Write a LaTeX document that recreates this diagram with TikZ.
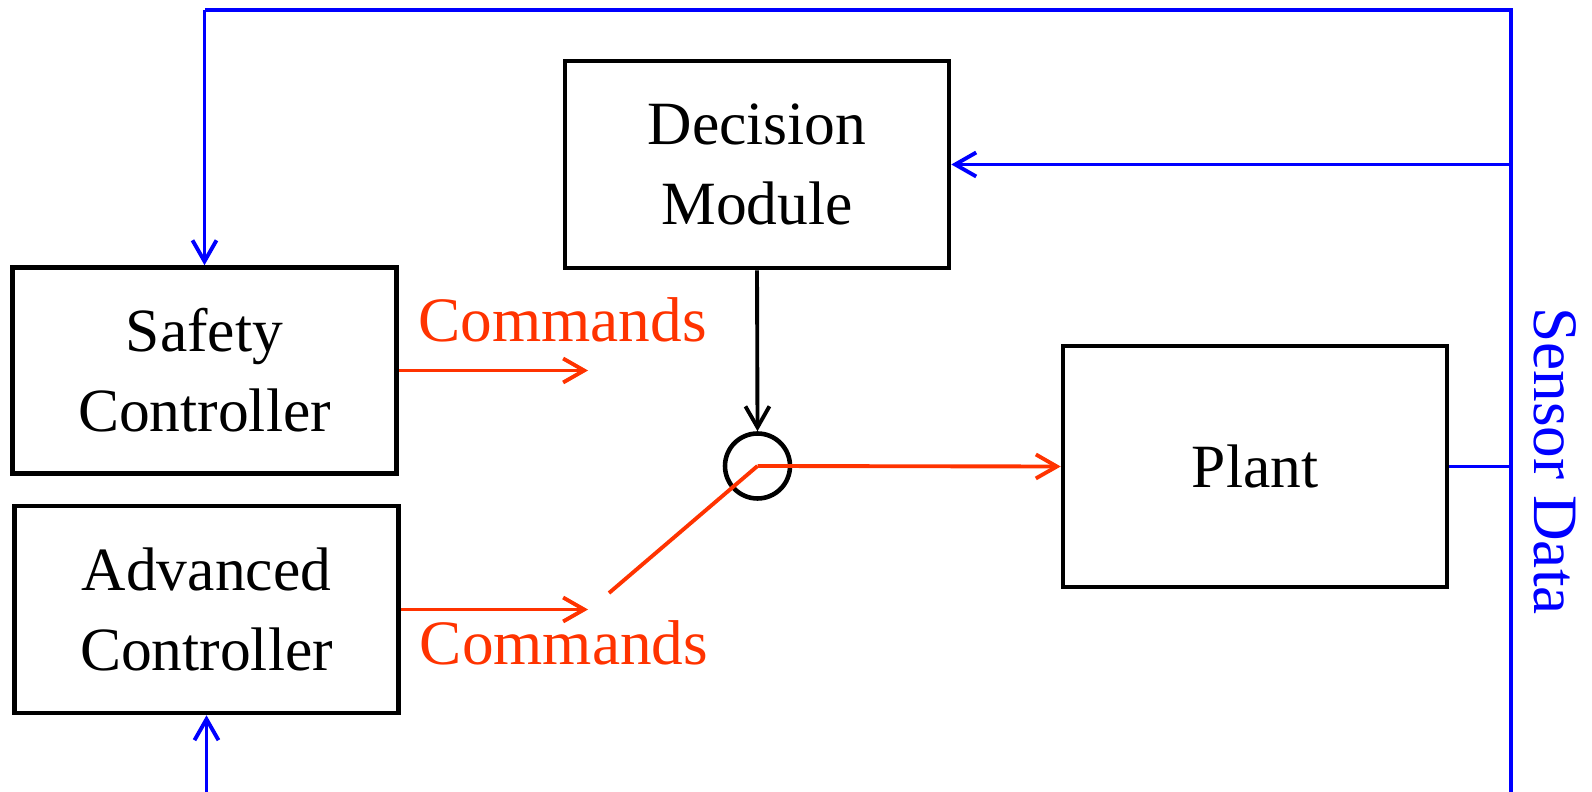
\documentclass[tikz,border=0pt]{standalone}
\usepackage{fontspec}
\setmainfont{Liberation Serif}
\usetikzlibrary{arrows.meta}

\definecolor{cmdred}{RGB}{255,51,0}
\definecolor{sensblue}{RGB}{0,0,255}

\tikzset{
  block/.style={draw, line width=1.3pt, minimum width=38.4mm, minimum height=20.6mm,
    align=center, font=\fontsize{17.5}{22.8}\selectfont},
  cmd/.style={cmdred, line width=1.1pt},
  sens/.style={sensblue, line width=1.1pt},
  lbl/.style={font=\fontsize{18}{21.6}\selectfont},
  >={Straight Barb[length=2.1mm,width=2.4mm]}
}

\begin{document}
\begin{tikzpicture}[x=1mm,y=1mm]
\useasboundingbox (0,0) rectangle (159.2,-79.2);

% controllers, decision module, plant and switch
\node[block] (safety) at (20.45,-37.05) {Safety\\Controller};
\node[block, minimum height=20.7mm] (advanced) at (20.65,-60.95) {Advanced\\Controller};
\node[block, minimum height=20.7mm] (decision) at (75.7,-16.45) {Decision\\Module};
\node[block, minimum height=24.1mm] (plant) at (125.5,-46.65) {Plant};
\node[draw, circle, line width=1.3pt, minimum size=6.5mm, inner sep=0pt] (switch) at (75.75,-46.6) {};

% commands
\coordinate (safetycmd) at (58.8,-37.05);
\coordinate (advancedcmd) at (58.8,-60.95);
\coordinate (lever) at (60.9,-59.3);
\draw[cmd,->] (safety.east) -- (safetycmd);
\draw[cmd,->] (advanced.east) -- (advancedcmd);
\draw[cmd] (lever) -- (switch.center);
\draw[cmd,->] (switch.center) -- (plant.west);
\node[lbl, cmdred] (cmdtop) at (56.25,-32.0) {Commands};
\node[lbl, cmdred] (cmdbottom) at (56.4,-64.3) {Commands};

\draw[->, line width=1.1pt] (decision.south) -- (switch.north);

% sensor data bus
\coordinate (busleft) at (20.45,-1.0);
\coordinate (bustop) at (151.1,-1.0);
\coordinate (busbottom) at (151.1,-79.2);
\coordinate (advancedin) at (20.65,-79.2);
\draw[sens] (busbottom) -- (bustop) -- (busleft);
\draw[sens,->] (busleft) -- (safety.north);
\draw[sens,->] (decision.east -| bustop) -- (decision.east);
\draw[sens] (plant.east) -- (plant.east -| bustop);
\draw[sens,->] (advancedin) -- (advanced.south);
\node[lbl, sensblue, rotate=-90] (sensor) at (155.5,-46.1) {Sensor Data};
\end{tikzpicture}
\end{document}
